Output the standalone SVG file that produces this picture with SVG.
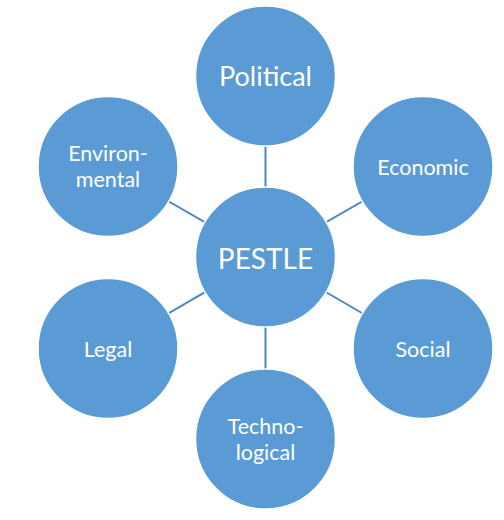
<svg xmlns="http://www.w3.org/2000/svg" width="504" height="520" viewBox="0 0 504 520">
<style>
.n{fill:#5B9BD5;stroke:#ffffff;stroke-width:1.5}
.t{fill:#ffffff;font-family:Lato,"Open Sans","Liberation Sans",sans-serif;text-anchor:middle}
.s{font-size:21.5px}
.c{stroke:#4A86C4;stroke-width:2}
</style>
<rect width="504" height="520" fill="#ffffff"/>
<g id="connectors">
<line class="c" x1="265.5" y1="257" x2="265.5" y2="76"/>
<line class="c" x1="265.5" y1="257" x2="423" y2="166.5"/>
<line class="c" x1="265.5" y1="257" x2="423" y2="348.5"/>
<line class="c" x1="265.5" y1="257" x2="265.5" y2="439"/>
<line class="c" x1="265.5" y1="257" x2="108" y2="348.5"/>
<line class="c" x1="265.5" y1="257" x2="108" y2="166.5"/>
</g>
<g id="political"><circle class="n" cx="265.5" cy="76" r="70"/><text class="t" x="265.5" y="86" font-size="27">Political</text></g>
<g id="economic"><circle class="n" cx="423" cy="166.5" r="70"/><text class="t s" x="423" y="175">Economic</text></g>
<g id="social"><circle class="n" cx="423" cy="348.5" r="70"/><text class="t s" x="423" y="357">Social</text></g>
<g id="technological"><circle class="n" cx="265.5" cy="439" r="70"/><text class="t s" x="265.5" y="434">Techno-</text><text class="t s" x="265.5" y="460">logical</text></g>
<g id="legal"><circle class="n" cx="108" cy="348.5" r="70"/><text class="t s" x="108" y="357">Legal</text></g>
<g id="environmental"><circle class="n" cx="108" cy="166.5" r="70"/><text class="t s" x="108" y="161">Environ-</text><text class="t s" x="108" y="187">mental</text></g>
<g id="pestle"><circle class="n" cx="265.5" cy="257" r="70"/><text class="t" x="265.5" y="269" font-size="28">PESTLE</text></g>
</svg>
